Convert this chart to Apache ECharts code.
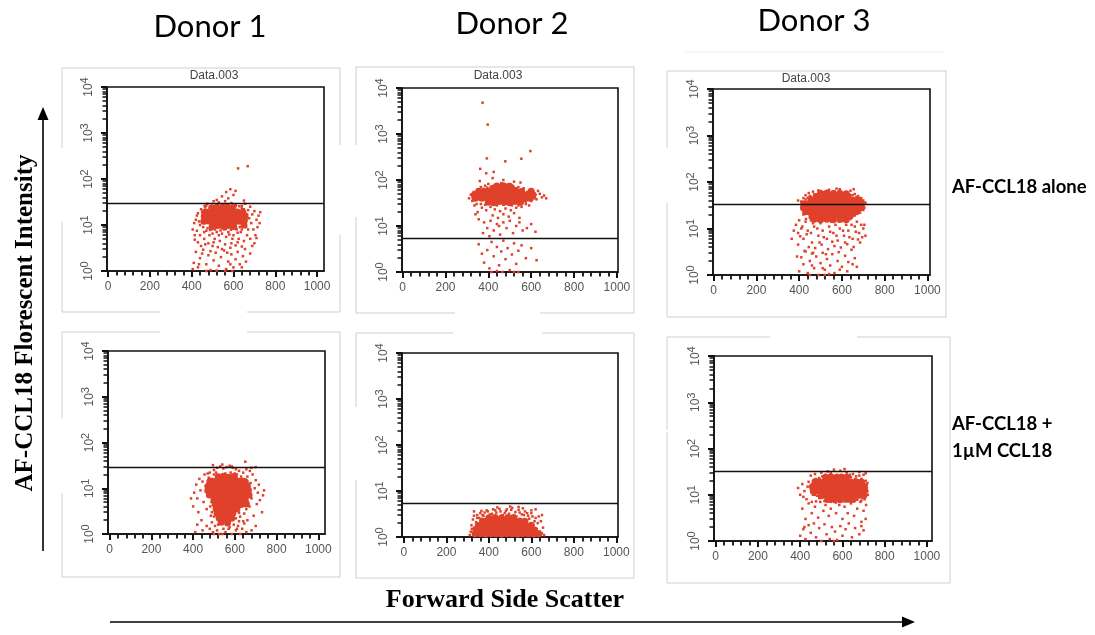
<!DOCTYPE html>
<html>
<head>
<meta charset="utf-8">
<title>AF-CCL18 binding by donor</title>
<script src="https://cdn.jsdelivr.net/npm/echarts@6/dist/echarts.min.js"></script>
<style>
  html, body { margin: 0; padding: 0; background: #ffffff; }
  #chart { width: 1095px; height: 635px; }
</style>
</head>
<body>
<div id="chart"></div>
<script>
// ---- axis ticks ----
const xTickLabels = [0, 200, 400, 600, 800, 1000];
const xMinorTicks = [40, 80, 120, 160, 240, 280, 320, 360, 440, 480, 520, 560,
                     640, 680, 720, 760, 840, 880, 920, 960];
const yDecadeRange = [1, 10000];
const yMinorTicks = [2, 3, 4, 5, 6, 7, 8, 9,
                     20, 30, 40, 50, 60, 70, 80, 90,
                     200, 300, 400, 500, 600, 700, 800, 900,
                     2000, 3000, 4000, 5000, 6000, 7000, 8000, 9000];

// ---- panel headings ----
const donors = ['Donor 1', 'Donor 2', 'Donor 3'];
const conditions = [['AF-CCL18 alone'], ['AF-CCL18 +', '1\u00b5M CCL18']];
const plotTitle = 'Data.003';
const yTitle = 'AF-CCL18 Florescent Intensity';
const xTitle = 'Forward Side Scatter';

// ---- gate thresholds (fluorescence) per panel ----
// order: D1 alone, D2 alone, D3 alone, D1 +CCL18, D2 +CCL18, D3 +CCL18
const gates = [30, 5.3, 34, 29, 5.3, 33];

// ---- events [forward scatter, fluorescence] ----
// dense population centres
const d1AloneCore = [
  [498,9.3],[524,9.7],[551,9.4],[576,9.8],[601,9.3],[650,10],
  [458,12],[480,12.2],[506,11.8],[530,12.3],[556,11.9],[581,12.2],[604,11.8],[626,12.1],[652,12.5],
  [460,15.5],[477,15.2],[500,14.8],[523,15.3],[546,14.9],[569,15.2],[591,14.8],[613,15.1],[633,14.9],[655,15.5],
  [463,19],[483,19.2],[505,18.8],[528,19.3],[551,18.9],[573,19.2],[596,18.8],[619,19.1],[645,19],
  [496,23.8],[521,24.3],[546,23.9],[571,24.2],[596,23.7]
];
const d1AloneDots = [
  [462,26],[475,29],[530,31],[560,33],[590,30],[610,27],[640,26],[655,29],[520,35],[575,38],
  [545,42],[600,45],[565,52],[610,55],[585,60],[622,170],[668,190],[505,33],[650,34],
  [405,8],[420,13],[430,18],[440,10],[445,22],[455,15],[460,7],[435,12],[450,19],[465,24],[425,16],[412,11],
  [645,12],[655,18],[660,9],[670,21],[675,14],[685,11],[690,17],[700,20],[710,13],[720,16],
  [728,19],[695,8],[705,6],[715,9],[680,25],[650,22],
  [470,7.5],[485,6],[495,8],[510,5],[520,7],[535,4.5],[545,6.5],[555,8],[565,5.5],[575,7],
  [590,4],[600,6],[615,8],[625,5],[635,7],[650,4.5],[665,6],[680,5],[700,4],[480,4],
  [500,3.5],[525,3.3],[560,3.8],[585,3.2],[610,3.6],[640,3.4],[460,5],[445,3.5],[430,4.2],[415,6],
  [405,1.1],[410,1.5],[420,2.6],[430,1.2],[440,1.9],[455,2.9],[470,1.4],[480,2.2],[490,1.05],[505,1.7],
  [515,2.5],[530,1.3],[540,2.0],[555,2.8],[565,1.1],[575,1.6],[590,2.3],[600,1.2],[610,1.8],[620,2.6],
  [630,1.4],[645,2.1],[660,1.6],[680,2.4],[470,1.0],[560,1.0],[595,1.0],[520,1.02],
  [462,11],[468,17],[458,14],[472,21],[476,8.5],[488,7.8],[512,8],[538,7.6],[563,8.2],[588,7.9],
  [612,8.3],[630,9],[645,10.5],[650,15],[648,19],[640,23],[628,25.5],[612,26],[488,25.5],[470,12.5],
  [660,13],[665,17],[455,18],[640,8],[620,6.8],[500,6.5],[530,6],[580,6.2],[470,26.5],[552,27.5],
  [425,7.5],[440,6],[455,9],[450,2.4],[465,3.8],[490,2.7],[505,4.2],[545,3],[570,2.5],[595,5],
  [620,4.2],[655,3],[670,8],[690,3.5],[710,5.2],[725,11],[415,4.8],[435,1.4],[585,1.4],[640,1.2]
];

const d2AloneCore = [
  [400,33],[425,32],[450,34],[475,33],[500,32],[525,34],[550,33],
  [338,40],[370,40],[395,41],[420,39],[445,40],[470,41],[495,39],[520,40],[545,41],[570,39],[595,40],
  [335,48],[360,48],[385,47],[410,49],[435,48],[460,47],[485,49],[510,48],[535,47],[560,49],[585,48],[608,48],
  [355,57],[380,57],[405,56],[430,58],[455,57],[480,56],[505,58],[530,57],[555,56],[600,57],
  [420,66],[450,65],[480,67],[510,65],[440,74],[470,75],[500,73]
];
const d2AloneDots = [
  [310,40],[318,48],[325,35],[332,55],[340,44],[345,30],[350,62],[335,28],[355,38],[365,70],
  [385,75],[400,82],[430,78],[460,85],[490,80],[515,74],[540,70],[565,66],[590,60],[605,52],
  [615,45],[625,38],[640,50],[650,42],[660,46],[670,40],[632,58],[600,35],[590,28],[575,30],
  [555,26],[530,25],[505,22],[480,24],[455,21],[430,23],[410,26],[390,22],[370,25],[350,20],
  [340,18],[420,17],[445,15],[470,18],[495,16],[520,19],[545,15],[360,95],[420,110],[470,100],
  [520,92],[550,88],
  [355,14],[380,12],[395,9],[410,13],[425,8],[440,11],[455,6.5],[470,12],[485,9],[500,13],
  [515,7],[530,10],[545,12],[560,8],[580,9],[600,11],[620,7.5],[405,6],[450,10],[375,7],
  [355,4],[370,2.5],[380,1.6],[395,3],[405,1.2],[415,4.5],[425,2.2],[440,3.5],[450,1.4],[460,2.8],
  [470,4.8],[480,1.9],[490,3.3],[500,1.1],[510,2.4],[520,4.2],[530,1.5],[540,2.9],[555,3.8],[575,2.0],
  [600,3.3],[625,1.8],[415,1.0],[465,1.0],[520,1.0],[540,1.0],[440,1.05],
  [373,4800],[397,1600],[393,295],[596,425],[554,290],[479,255],[362,175],[390,140],[425,150],
  [330,42],[338,50],[345,37],[352,55],[600,44],[610,50],[618,40],[595,57],[365,30],[385,29],
  [440,28],[470,29],[510,28],[550,30],[575,34],[395,68],[440,72],[470,70],[500,72],[530,66],
  [560,62],[580,55],[325,45],[345,46],[620,48],[605,38],[375,64],[540,28]
];

const d3AloneCore = [
  [470,15.8],[500,15.5],[530,15.9],[560,15.4],[590,15.7],[620,15.5],
  [460,19],[485,19.5],[510,18.8],[535,19.3],[560,18.9],[585,19.4],[610,19],[640,19.2],
  [430,23],[445,23],[470,23.5],[495,22.8],[520,23.2],[545,23.6],[570,22.9],[595,23.3],[620,23],[645,23.4],[668,23],
  [420,28],[440,28],[465,28.5],[490,27.7],[515,28.3],[540,28],[565,28.6],[590,27.8],[615,28.2],[640,28.5],[665,27.9],[690,28],
  [422,34],[445,34],[470,33.5],[495,34.4],[520,33.8],[545,34.2],[570,33.6],[595,34.3],[620,33.9],[645,34.1],[670,33.7],[692,34],
  [455,41],[480,41.6],[505,40.5],[530,41.3],[555,40.8],[580,41.5],[605,40.7],[630,41.2],[655,40.6],[680,41],
  [480,49],[510,49.8],[540,48.6],[570,49.5],[600,48.8],[630,49.3],
  [500,57],[530,58],[560,56.5],[590,57.5],[620,56]
];
const d3AloneDots = [
  [430,52],[445,58],[465,62],[490,66],[515,60],[540,68],[565,63],[590,70],[615,58],[640,65],
  [660,55],[675,50],[690,45],[700,40],[710,36],[690,30],[700,25],[420,45],[410,38],[425,32],
  [415,26],[395,40],[685,22],[655,70],[575,72],[505,55],[455,48],
  [385,12],[395,8],[400,15],[410,10],[420,6],[430,14],[440,9],[450,17],[460,5],[470,11],
  [480,15],[490,7],[500,13],[510,9],[520,16],[530,6],[540,11],[550,14],[560,8],[570,12],
  [580,5.5],[590,10],[600,15],[610,7],[620,12],[630,9],[640,16],[650,6],[660,11],[670,14],
  [680,8],[690,12],[700,10],[710,7],[365,6],[375,9],[445,4],[475,3.8],[505,4.5],[535,3.6],
  [565,4.2],[595,3.9],[625,4.6],[655,4],[685,5],[525,17],[555,16],[585,17],[495,16],[615,16],
  [465,13],[645,12],
  [400,1.2],[410,2.4],[420,1.7],[430,3.2],[440,1.1],[450,2.0],[460,2.9],[470,1.4],[480,2.5],[490,1.0],
  [500,1.8],[510,3.0],[520,1.3],[530,2.2],[545,1.6],[555,2.8],[565,1.1],[580,2.0],[600,1.5],[615,2.6],
  [630,1.9],[660,2.3],[670,1.5],[450,1.0],[520,1.0],[540,1.05],
  [420,20],[425,28],[418,35],[430,42],[432,16],[455,15],[480,16],[505,14.5],[530,15.5],[560,15],
  [590,16.5],[620,15],[645,17],[660,19],[680,24],[688,30],[685,36],[675,42],[668,47],[650,52],
  [620,56],[590,58],[560,57],[530,58],[500,57],[470,54],[450,50],[440,46],[700,33],[705,28],
  [395,4.5],[405,6.8],[415,11],[425,3.3],[435,7.5],[455,8],[465,3],[485,10],[495,5],[515,6.5],
  [525,2.8],[545,8.5],[555,5.2],[575,7],[585,3.1],[605,9],[615,5],[635,6.5],[645,3.5],[665,8.5],
  [675,5.8],[695,6.5],[705,12],[390,2.5],[460,1.6],[510,1.4],[590,1.3],[625,1.2],[650,1.7]
];

const d1BlockedCore = [
  [520,17.8],[545,18.2],[570,17.5],[595,18],
  [480,14.1],[500,14.1],[525,14.4],[550,13.9],[575,14.3],[600,14],[625,14.2],[648,14.1],
  [472,11.2],[495,11.2],[520,11.5],[545,11],[570,11.4],[595,11.1],[620,11.3],[640,11],[660,11.2],
  [470,8.9],[490,8.9],[515,9.1],[540,8.7],[565,9],[590,8.8],[615,9.1],[640,8.9],[665,9],
  [478,7.1],[495,7.1],[520,7.2],[545,6.9],[570,7.1],[595,7],[620,7.2],[645,7],[668,7.1],
  [500,5.6],[525,5.7],[550,5.5],[575,5.7],[600,5.6],[625,5.5],[650,5.6],
  [505,4.5],[530,4.6],[555,4.4],[580,4.5],[605,4.6],[630,4.4],[655,4.5],
  [510,3.5],[535,3.6],[560,3.5],[585,3.6],[610,3.5],
  [515,2.8],[540,2.85],[565,2.75],[590,2.8],
  [525,2.2],[555,2.25],[585,2.2],
  [535,1.8],[565,1.75]
];
const d1BlockedDots = [
  [480,22],[500,25],[515,28],[530,30],[545,27],[560,29],[575,31],[590,28],[605,26],[620,24],
  [640,22],[655,26],[680,28],[700,29],[495,32],[540,33],[585,30],[650,38],[610,20],[470,21],
  [400,4],[405,8],[415,12],[420,6],[425,3],[430,16],[435,9],[440,2],[445,14],[450,5],
  [455,20],[460,11],[465,3.5],[470,7],[475,17],[480,13],[485,2.5],[465,1.5],[445,1.2],[420,1.6],
  [410,1.1],[390,6],
  [660,18],[665,9],[670,4],[675,13],[680,6],[685,20],[690,2.5],[695,10],[700,15],[705,4.5],
  [710,8],[715,12],[720,5.5],[730,3],[735,7],[700,1.5],[680,1.2],[660,2],[672,24],[740,9],
  [495,1.1],[505,1.5],[515,1.2],[525,1.0],[545,1.3],[555,1.1],[575,1.4],[585,1.0],[595,1.6],[605,1.2],
  [615,1.5],[625,1.0],[635,1.3],[645,1.7],[655,1.1],[480,1.3],[500,1.0],[540,1.0],[560,1.6],[620,1.9],
  [485,9],[488,5],[650,8],[655,5.5],[645,12],[490,16],
  [478,16],[485,12],[480,7],[482,4],[490,3],[500,2.4],[660,14],[662,10],[665,7],[660,5],
  [655,3.5],[645,2.8],[625,2.4],[605,2.2],[610,17],[630,18],[640,16],[500,20],[510,22],[555,21],
  [580,22],[600,21],[490,1.8],[640,1.9],[620,2.9],[520,1.6],[570,1.3],[610,1.3],[650,4.2],[475,10]
];

const d2BlockedCore = [
  [335,1.17],[360,1.18],[385,1.16],[410,1.18],[435,1.17],[460,1.16],[485,1.18],[510,1.17],[535,1.16],[560,1.18],[585,1.17],[610,1.16],[635,1.18],
  [340,1.41],[365,1.43],[390,1.4],[415,1.42],[440,1.41],[465,1.43],[490,1.4],[515,1.42],[540,1.41],[565,1.43],[590,1.4],[615,1.42],
  [350,1.78],[375,1.8],[400,1.76],[425,1.79],[450,1.78],[475,1.8],[500,1.77],[525,1.79],[550,1.78],[575,1.76],[600,1.79],
  [370,2.24],[395,2.28],[420,2.22],[445,2.26],[470,2.25],[495,2.22],[520,2.27],[545,2.24],[570,2.2],
  [400,2.63],[430,2.66],[460,2.6],[490,2.65],[515,2.62]
];
const d2BlockedDots = [
  [330,3.6],[345,3.0],[360,3.3],[375,2.9],[390,3.8],[405,3.1],[420,4.0],[435,3.4],[450,4.1],[465,3.0],
  [480,3.7],[495,3.2],[510,4.3],[525,3.5],[540,3.9],[555,3.1],[570,3.6],[585,2.9],[600,3.3],[620,4.0],
  [635,2.8],[650,3.0],[325,2.4],[318,1.8],[315,1.3],[645,2.2],[655,1.6],[650,1.2],[440,4.4],[500,4.6],
  [560,4.2],[620,2.6],[340,2.1],[380,3.4],[460,2.9],[530,2.8],[590,2.5],[355,2.6],[625,1.5],[330,1.6],
  [310,1.1],[320,1.5],[330,2.9],[345,2.6],[365,3.7],[395,3.6],[415,3.2],[455,3.6],[475,3.3],[505,3.9],
  [520,3.0],[545,3.4],[565,3.0],[580,3.3],[605,2.8],[615,2.2],[630,2.0],[640,1.3],[660,1.1],[600,3.8],
  [485,4.0],[430,3.8],[370,3.0],[540,4.5]
];

const d3BlockedCore = [
  [520,24],[545,24.5],[570,23.6],[595,24.3],[620,23.8],
  [470,19],[490,19],[515,19.4],[540,18.7],[565,19.2],[590,18.9],[615,19.3],[640,18.8],[665,19.1],[690,18.9],
  [458,15],[480,15.1],[505,15.4],[530,14.9],[555,15.2],[580,15],[605,15.3],[630,14.8],[655,15.2],[680,15],[700,15.3],
  [462,12],[485,12],[510,12.2],[535,11.8],[560,12.1],[585,12],[610,12.3],[635,11.9],[660,12.1],[685,11.8],[705,12.2],
  [500,9.5],[525,9.7],[550,9.4],[575,9.6],[600,9.5],[625,9.7],[650,9.3],[675,9.6],[700,9.5],
  [530,7.9],[560,8.1],[590,7.8],[620,8],[650,7.9]
];
const d3BlockedDots = [
  [450,26],[470,28],[500,30],[530,32],[560,35],[590,33],[620,30],[650,28],[680,31],[700,27],
  [710,29],[545,29],[610,36],[520,27],[665,25],
  [390,14],[400,10],[410,17],[420,12],[430,8],[440,19],[450,14],[460,10],[470,21],[455,7],
  [435,15],[415,9],[470,16],
  [710,20],[715,14],[720,10],[712,6],[705,17],[718,18],
  [410,5],[425,3],[440,6.5],[455,4],[470,5.5],[485,3.2],[495,7],[510,4.5],[520,6],[535,3.5],
  [545,5],[560,7],[570,4],[585,6],[600,3],[610,5.5],[625,4],[640,6.5],[655,3.5],[670,5],
  [685,7],[700,4.5],[710,3],[690,2.6],[475,7.2],[530,7.5],[580,7.4],[630,7.2],
  [400,1.3],[415,1.8],[425,1.1],[440,2.2],[450,1.5],[465,2.4],[475,1.2],[490,1.9],[500,1.0],[515,2.3],
  [525,1.4],[540,1.1],[550,2.0],[565,1.6],[575,1.05],[590,2.1],[600,1.3],[615,1.8],[630,2.4],[645,1.2],
  [660,1.9],[680,1.4],[690,2.1],[700,1.7],[560,1.0],[420,2.0],
  [455,12],[460,16],[465,19],[470,10],[475,22],[490,23],[505,25],[540,26.5],[575,27],[600,26],
  [640,24],[660,22],[690,22],[700,19],[715,16],[718,12],[712,9.5],[705,8],[690,7.5],[670,7.8],
  [640,7],[610,7.2],[570,6.8],[545,7],[515,7.3],[490,8.5],[480,9.5],[465,13.5],[680,26],[635,27]
];

const panelCores = [d1AloneCore, d2AloneCore, d3AloneCore, d1BlockedCore, d2BlockedCore, d3BlockedCore];
const panelDots = [d1AloneDots, d2AloneDots, d3AloneDots, d1BlockedDots, d2BlockedDots, d3BlockedDots];

// ---- page layout ----
const plotBoxes = [
  { left: 107, top: 87,  width: 217, height: 184, xMin: -5, xMax: 1033 },
  { left: 402, top: 88,  width: 216, height: 184, xMin: -3, xMax: 1005 },
  { left: 713, top: 89,  width: 217, height: 186, xMin: -3, xMax: 1012 },
  { left: 108, top: 351, width: 217, height: 183, xMin: -8, xMax: 1032 },
  { left: 402, top: 353, width: 216, height: 184, xMin: -9, xMax: 1008 },
  { left: 714, top: 356, width: 218, height: 185, xMin: -8, xMax: 1024 }
];
const titlePos = [[210, 27], [512, 24], [814, 21]];
const subTitlePos = [[214, 76], [498, 76], [806, 79]];
const conditionPos = [[952, 187], [952, 438]];

// light grey outlines of the exported cytometer panels
const panelOutlines = [
  [62,68,340,68],[62,68,62,148],[62,222,62,312],[62,312,160,312],[247,312,340,312],[340,68,340,145],[340,235,340,312],
  [356,67,634,67],[356,67,356,145],[356,217,356,313],[356,313,455,313],[540,313,634,313],[634,67,634,313],
  [667,71,947,71],[667,71,667,148],[667,203,667,317],[667,317,947,317],[946,71,946,317],
  [62,332,160,332],[247,332,340,332],[62,332,62,418],[62,493,62,577],[62,577,340,577],[340,332,340,577],
  [356,333,453,333],[542,333,634,333],[356,333,356,407],[356,480,356,578],[356,578,634,578],[634,333,634,578],
  [667,337,770,337],[857,337,950,337],[667,337,667,430],[667,432,667,583],[667,583,950,583],[950,337,950,583]
];

const RED = '#e0412b';
const AXIS_TEXT = '#555555';
const INK = '#111111';
const SANS = '"Liberation Sans", Arial, sans-serif';

const grids = [], xAxes = [], yAxes = [], series = [];
const yMinorPos = yMinorTicks.map(v => Math.log10(v));

plotBoxes.forEach((b, i) => {
  grids.push({
    left: b.left, top: b.top, width: b.width, height: b.height,
    show: true, borderColor: INK, borderWidth: 1.6, backgroundColor: '#ffffff'
  });
  // major x ticks + labels
  xAxes.push({
    type: 'value', gridIndex: i, position: 'bottom', min: b.xMin, max: b.xMax,
    splitLine: { show: false },
    axisLine: { show: true, onZero: false, lineStyle: { color: INK, width: 1.6 } },
    axisTick: { show: true, length: 6, customValues: xTickLabels, lineStyle: { color: INK, width: 2 } },
    axisLabel: { show: true, customValues: xTickLabels, margin: 10, color: AXIS_TEXT, fontSize: 12,
                 fontFamily: SANS, formatter: v => String(v) }
  });
  // minor x ticks
  xAxes.push({
    type: 'value', gridIndex: i, position: 'bottom', min: b.xMin, max: b.xMax,
    splitLine: { show: false },
    axisLine: { show: false, onZero: false },
    axisTick: { show: true, length: 4.5, customValues: xMinorTicks, lineStyle: { color: INK, width: 1.8 } },
    axisLabel: { show: false }
  });
  // logarithmic fluorescence axis
  yAxes.push({
    type: 'log', logBase: 10, gridIndex: i, position: 'left', min: yDecadeRange[0], max: yDecadeRange[1],
    splitLine: { show: false },
    axisLine: { show: true, onZero: false, lineStyle: { color: INK, width: 1.6 } },
    axisTick: { show: true, length: 6, lineStyle: { color: INK, width: 2 } },
    axisLabel: {
      show: true, rotate: 90, margin: 8, color: AXIS_TEXT, fontFamily: SANS,
      formatter: v => '{b|10}{e|' + Math.round(Math.log10(v)) + '}',
      rich: {
        b: { fontSize: 12, color: AXIS_TEXT, fontFamily: SANS },
        e: { fontSize: 11, color: AXIS_TEXT, fontFamily: SANS, padding: [0, 0, 9, 0] }
      }
    }
  });
  // minor decade ticks (2..9 within each decade), placed in log space
  yAxes.push({
    type: 'value', gridIndex: i, position: 'left', min: 0, max: 4,
    splitLine: { show: false },
    axisLine: { show: false, onZero: false },
    axisTick: { show: true, length: 4.5, customValues: yMinorPos, lineStyle: { color: INK, width: 1.5 } },
    axisLabel: { show: false }
  });

  series.push({
    type: 'scatter', xAxisIndex: 2 * i, yAxisIndex: 2 * i,
    data: panelCores[i], symbol: 'circle', symbolSize: 7,
    itemStyle: { color: RED, opacity: 1 }, silent: true
  });
  series.push({
    type: 'scatter', xAxisIndex: 2 * i, yAxisIndex: 2 * i,
    data: panelDots[i], symbol: 'rect', symbolSize: 2.5,
    itemStyle: { color: RED, opacity: 1 }, silent: true,
    markLine: {
      silent: true, symbol: ['none', 'none'], z: 5,
      label: { show: false },
      lineStyle: { color: INK, width: 1.4, type: 'solid', opacity: 1 },
      emphasis: { disabled: true },
      data: [{ yAxis: gates[i] }]
    }
  });
});

const graphic = [];
panelOutlines.forEach(s => {
  graphic.push({ type: 'line', silent: true, shape: { x1: s[0], y1: s[1], x2: s[2], y2: s[3] },
                 style: { stroke: '#cfcfcf', lineWidth: 1 } });
});
graphic.push({ type: 'line', silent: true, shape: { x1: 685, y1: 52, x2: 943, y2: 52 },
               style: { stroke: '#eeeeee', lineWidth: 1 } });

donors.forEach((d, i) => {
  graphic.push({ type: 'text', x: titlePos[i][0], y: titlePos[i][1], silent: true,
    style: { text: d, font: '31px Lato, "Open Sans", sans-serif', fill: '#000', align: 'center', verticalAlign: 'middle' } });
  graphic.push({ type: 'text', x: subTitlePos[i][0], y: subTitlePos[i][1], silent: true,
    style: { text: plotTitle, font: '12px ' + SANS, fill: '#444', align: 'center', verticalAlign: 'middle' } });
});

conditions.forEach((lines, i) => {
  graphic.push({ type: 'text', x: conditionPos[i][0], y: conditionPos[i][1], silent: true,
    style: { text: lines.join('\n'), font: 'bold 18.5px Lato, "Open Sans", sans-serif', lineHeight: 27,
             fill: '#000', align: 'left', verticalAlign: 'middle' } });
});

// axis titles with direction arrows
graphic.push({ type: 'text', x: 26, y: 323, rotation: Math.PI / 2, silent: true,
  style: { text: yTitle, font: 'bold 25px "Liberation Serif", "Times New Roman", serif', fill: '#000',
           align: 'center', verticalAlign: 'middle' } });
graphic.push({ type: 'line', silent: true, shape: { x1: 43, y1: 551, x2: 43, y2: 118 },
               style: { stroke: '#000', lineWidth: 1.6 } });
graphic.push({ type: 'polygon', silent: true, shape: { points: [[43, 107], [37.5, 120], [48.5, 120]] },
               style: { fill: '#000' } });

graphic.push({ type: 'text', x: 505, y: 600, silent: true,
  style: { text: xTitle, font: 'bold 26px "Liberation Serif", "Times New Roman", serif', fill: '#000',
           align: 'center', verticalAlign: 'middle' } });
graphic.push({ type: 'line', silent: true, shape: { x1: 110, y1: 622, x2: 903, y2: 622 },
               style: { stroke: '#000', lineWidth: 1.6 } });
graphic.push({ type: 'polygon', silent: true, shape: { points: [[915, 622], [902, 616.5], [902, 627.5]] },
               style: { fill: '#000' } });

const chart = echarts.init(document.getElementById('chart'), null, { renderer: 'canvas' });
chart.setOption({
  animation: false,
  backgroundColor: '#ffffff',
  grid: grids,
  xAxis: xAxes,
  yAxis: yAxes,
  series: series,
  graphic: graphic
});
</script>
</body>
</html>
